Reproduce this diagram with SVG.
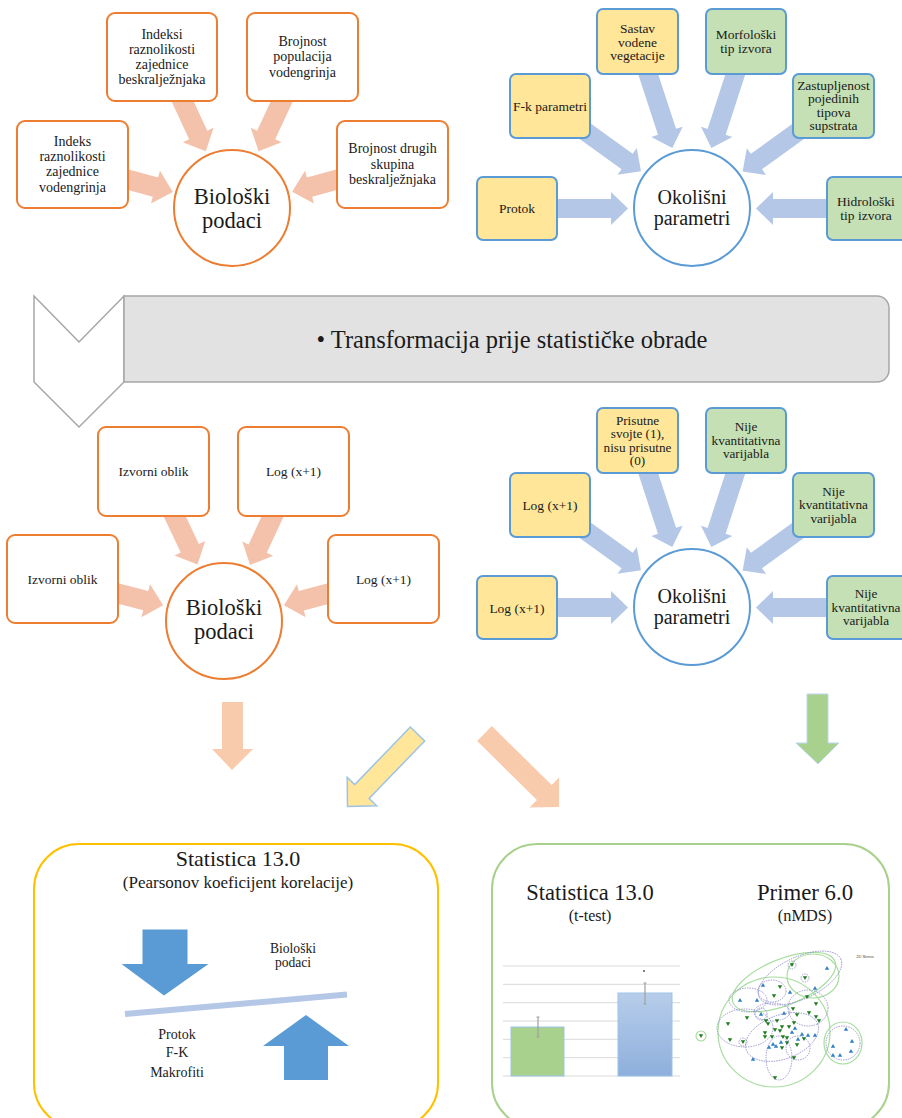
<svg xmlns="http://www.w3.org/2000/svg" width="902" height="1118" viewBox="0 0 902 1118">
<defs>
<style>
text { font-family: "Liberation Serif","Times New Roman",serif; fill:#1a1a1a; text-anchor:middle; }
.ob { fill:#fff; stroke:#ED7D31; stroke-width:2; }
.yb { fill:#FFE699; stroke:#5B9BD5; stroke-width:2; }
.gb { fill:#C5E0B4; stroke:#5B9BD5; stroke-width:2; }
.oc { fill:#fff; stroke:#ED7D31; stroke-width:2; }
.bc { fill:#fff; stroke:#5B9BD5; stroke-width:2; }
.sa { fill:#F4C1AB; }
.ba { fill:#B4C7E7; }
.t14 { font-size:14px; }
.t13 { font-size:13.5px; }
.t132 { font-size:13.2px; }
.big { font-size:22.5px; }
.mid { font-size:20px; }
.pe { fill:none; stroke:#8A86C8; stroke-width:0.8; stroke-dasharray:1.5 1; }
.ge { fill:none; stroke:#A8DDA0; stroke-width:1.2; }
.grid { stroke:#D9D9D9; stroke-width:1; }
.err { stroke:#A0A0A0; stroke-width:1.2; fill:none; }
</style>
<path id="dn" d="M-2.2,-1.8 H2.2 L0,2 Z" fill="#1E7B1E"/>
<path id="up" d="M-2.2,1.8 H2.2 L0,-2 Z" fill="#2F7FC1"/>
<linearGradient id="bgr" x1="0" y1="0" x2="0" y2="1"><stop offset="0" stop-color="#B7CDEA"/><stop offset="1" stop-color="#8EAFDD"/></linearGradient>
</defs>

<g id="connectors">
  <!-- top-left salmon -->
  <polygon class="sa" transform="translate(72.5,164.5) rotate(15.3)" points="50,-10 86,-10 86,-17 104,0 86,17 86,10 50,10"/>
  <polygon class="sa" transform="translate(162,57) rotate(65.1)" points="40,-10 86,-10 86,-17 104,0 86,17 86,10 40,10"/>
  <polygon class="sa" transform="translate(302.5,57) rotate(115)" points="40,-10 86,-10 86,-17 104,0 86,17 86,10 40,10"/>
  <polygon class="sa" transform="translate(392.5,164.5) rotate(164.8)" points="50,-10 86,-10 86,-17 104,0 86,17 86,10 50,10"/>
  <!-- middle-left salmon -->
  <polygon class="sa" transform="translate(62.5,579) rotate(14.6)" points="50,-10 86,-10 86,-17 104,0 86,17 86,10 50,10"/>
  <polygon class="sa" transform="translate(153.5,471.5) rotate(64.7)" points="40,-10 85,-10 85,-17 103,0 85,17 85,10 40,10"/>
  <polygon class="sa" transform="translate(293.5,471.5) rotate(114.9)" points="40,-10 85,-10 85,-17 103,0 85,17 85,10 40,10"/>
  <polygon class="sa" transform="translate(383.5,579) rotate(165.2)" points="50,-10 85,-10 85,-17 103,0 85,17 85,10 50,10"/>
  <!-- top-right blue -->
  <polygon class="ba" transform="translate(517,208.5)" points="35,-9.5 94,-9.5 94,-16.5 111,0 94,16.5 94,9.5 35,9.5"/>
  <polygon class="ba" transform="translate(550,106) rotate(35.7)" points="42,-9.5 95,-9.5 95,-16.5 112,0 95,16.5 95,9.5 42,9.5"/>
  <polygon class="ba" transform="translate(637.5,41.5) rotate(71.9)" points="28,-9.5 95,-9.5 95,-16.5 112,0 95,16.5 95,9.5 28,9.5"/>
  <polygon class="ba" transform="translate(746,41.5) rotate(108)" points="28,-9.5 95,-9.5 95,-16.5 112,0 95,16.5 95,9.5 28,9.5"/>
  <polygon class="ba" transform="translate(833.5,106) rotate(144.2)" points="42,-9.5 95,-9.5 95,-16.5 112,0 95,16.5 95,9.5 42,9.5"/>
  <polygon class="ba" transform="translate(866,208.5) rotate(180)" points="35,-9.5 93,-9.5 93,-16.5 110,0 93,16.5 93,9.5 35,9.5"/>
  <!-- middle-right blue -->
  <polygon class="ba" transform="translate(517,607.5)" points="35,-9.5 94,-9.5 94,-16.5 111,0 94,16.5 94,9.5 35,9.5"/>
  <polygon class="ba" transform="translate(550,505) rotate(35.7)" points="42,-9.5 95,-9.5 95,-16.5 112,0 95,16.5 95,9.5 42,9.5"/>
  <polygon class="ba" transform="translate(637.5,440.5) rotate(71.9)" points="28,-9.5 95,-9.5 95,-16.5 112,0 95,16.5 95,9.5 28,9.5"/>
  <polygon class="ba" transform="translate(746,440.5) rotate(108)" points="28,-9.5 95,-9.5 95,-16.5 112,0 95,16.5 95,9.5 28,9.5"/>
  <polygon class="ba" transform="translate(833.5,505) rotate(144.2)" points="42,-9.5 95,-9.5 95,-16.5 112,0 95,16.5 95,9.5 42,9.5"/>
  <polygon class="ba" transform="translate(866,607.5) rotate(180)" points="35,-9.5 93,-9.5 93,-16.5 110,0 93,16.5 93,9.5 35,9.5"/>
  <!-- bottom arrows -->
  <polygon fill="#F8CBAD" points="222,702 243,702 243,749 253,749 232,770 212,749 222,749"/>
  <polygon fill="#FFE699" stroke="#9DC3E6" stroke-width="1.5" transform="translate(417.5,734) rotate(134)" points="0,-10 80,-10 80,-20.5 100.8,0 80,20.5 80,10 0,10"/>
  <polygon fill="#F8CBAD" transform="translate(484.5,733.5) rotate(44.6)" points="0,-10.5 84,-10.5 84,-21 104.7,0 84,21 84,10.5 0,10.5"/>
  <polygon fill="#A9D18E" stroke="#BDD7EE" stroke-width="1" points="807,694 828,694 828,743 839,743 818,764 796,743 807,743"/>
</g>

<!-- top-left group -->
<g id="n-indeksi-beskr">
  <rect class="ob" x="107" y="13" width="110" height="88" rx="8"/>
  <text class="t14"><tspan x="162" y="38.5">Indeksi</tspan><tspan x="162" y="53.8">raznolikosti</tspan><tspan x="162" y="69.1">zajednice</tspan><tspan x="162" y="84.4">beskralježnjaka</tspan></text>
</g>
<g id="n-brojnost-pop">
  <rect class="ob" x="247" y="13" width="111" height="88" rx="8"/>
  <text class="t14"><tspan x="302.5" y="46">Brojnost</tspan><tspan x="302.5" y="61.3">populacija</tspan><tspan x="302.5" y="76.6">vodengrinja</tspan></text>
</g>
<g id="n-indeks-vodengr">
  <rect class="ob" x="17" y="121" width="111" height="87" rx="8"/>
  <text class="t14"><tspan x="72.5" y="145.6">Indeks</tspan><tspan x="72.5" y="160.9">raznolikosti</tspan><tspan x="72.5" y="176.2">zajednice</tspan><tspan x="72.5" y="191.5">vodengrinja</tspan></text>
</g>
<g id="n-brojnost-drugih">
  <rect class="ob" x="337" y="121" width="111" height="87" rx="8"/>
  <text class="t14"><tspan x="392.5" y="153.2">Brojnost drugih</tspan><tspan x="392.5" y="168.5">skupina</tspan><tspan x="392.5" y="183.8">beskralježnjaka</tspan></text>
</g>
<g id="n-bioloski-1">
  <circle class="oc" cx="232" cy="208" r="58"/>
  <text class="big"><tspan x="232" y="204">Biološki</tspan><tspan x="232" y="228">podaci</tspan></text>
</g>

<!-- top-right group -->
<g id="n-sastav">
  <rect class="yb" x="597" y="9" width="81" height="65" rx="6"/>
  <text class="t13"><tspan x="637.5" y="32.8">Sastav</tspan><tspan x="637.5" y="46.6">vodene</tspan><tspan x="637.5" y="60.4">vegetacije</tspan></text>
</g>
<g id="n-morfoloski">
  <rect class="gb" x="706" y="9" width="80" height="65" rx="6"/>
  <text class="t13"><tspan x="746" y="39.3">Morfološki</tspan><tspan x="746" y="53">tip izvora</tspan></text>
</g>
<g id="n-fk">
  <rect class="yb" x="510" y="74" width="80" height="64" rx="6"/>
  <text class="t13" x="550" y="111">F-k parametri</text>
</g>
<g id="n-zastupljenost">
  <rect class="gb" x="793" y="74" width="81" height="64" rx="6"/>
  <text class="t13"><tspan x="833.5" y="89.8">Zastupljenost</tspan><tspan x="833.5" y="103.2">pojedinih</tspan><tspan x="833.5" y="116.7">tipova</tspan><tspan x="833.5" y="130.2">supstrata</tspan></text>
</g>
<g id="n-protok">
  <rect class="yb" x="477" y="177" width="80" height="63" rx="6"/>
  <text class="t13" x="517" y="213">Protok</text>
</g>
<g id="n-hidroloski">
  <rect class="gb" x="827" y="177" width="82" height="63" rx="6"/>
  <text class="t13"><tspan x="866" y="206">Hidrološki</tspan><tspan x="866" y="219.5">tip izvora</tspan></text>
</g>
<g id="n-okolisni-1">
  <circle class="bc" cx="692" cy="208" r="58"/>
  <text class="mid"><tspan x="692" y="204">Okolišni</tspan><tspan x="692" y="225">parametri</tspan></text>
</g>

<!-- banner -->
<g id="n-transformacija">
  <polygon points="34,296 79,342 124,296 124,382 79,427 34,382" fill="#fff" stroke="#A6A6A6" stroke-width="1.5"/>
  <path d="M124,296 H877 A12,12 0 0 1 889,308 V370 A12,12 0 0 1 877,382 H124 Z" fill="#E2E2E2" stroke="#A6A6A6" stroke-width="1.5"/>
  <text x="512" y="348" style="font-size:24.5px">• Transformacija  prije statističke obrade</text>
</g>

<!-- middle-left group -->
<g id="n-izvorni-1">
  <rect class="ob" x="98" y="427" width="111" height="89" rx="8"/>
  <text class="t13" x="153.5" y="476">Izvorni oblik</text>
</g>
<g id="n-log-1">
  <rect class="ob" x="238" y="427" width="111" height="89" rx="8"/>
  <text class="t13" x="293.5" y="476">Log (x+1)</text>
</g>
<g id="n-izvorni-2">
  <rect class="ob" x="7" y="535" width="111" height="88" rx="8"/>
  <text class="t13" x="62.5" y="583.5">Izvorni oblik</text>
</g>
<g id="n-log-2">
  <rect class="ob" x="328" y="535" width="111" height="88" rx="8"/>
  <text class="t13" x="383.5" y="583.5">Log (x+1)</text>
</g>
<g id="n-bioloski-2">
  <circle class="oc" cx="224" cy="621" r="58"/>
  <text class="big"><tspan x="224" y="614.5">Biološki</tspan><tspan x="224" y="639">podaci</tspan></text>
</g>

<!-- middle-right group -->
<g id="n-prisutne">
  <rect class="yb" x="597" y="408" width="81" height="65" rx="6"/>
  <text class="t132"><tspan x="637.5" y="425">Prisutne</tspan><tspan x="637.5" y="438.3">svojte (1),</tspan><tspan x="637.5" y="451.6">nisu prisutne</tspan><tspan x="637.5" y="464.9">(0)</tspan></text>
</g>
<g id="n-nije-1">
  <rect class="gb" x="706" y="408" width="80" height="65" rx="6"/>
  <text class="t132"><tspan x="746" y="431">Nije</tspan><tspan x="746" y="444.5">kvantitativna</tspan><tspan x="746" y="458">varijabla</tspan></text>
</g>
<g id="n-log-3">
  <rect class="yb" x="510" y="473" width="80" height="64" rx="6"/>
  <text class="t13" x="550" y="510">Log (x+1)</text>
</g>
<g id="n-nije-2">
  <rect class="gb" x="793" y="473" width="81" height="64" rx="6"/>
  <text class="t132"><tspan x="833.5" y="495.5">Nije</tspan><tspan x="833.5" y="509">kvantitativna</tspan><tspan x="833.5" y="522.5">varijabla</tspan></text>
</g>
<g id="n-log-4">
  <rect class="yb" x="477" y="576" width="80" height="63" rx="6"/>
  <text class="t13" x="517" y="613">Log (x+1)</text>
</g>
<g id="n-nije-3">
  <rect class="gb" x="827" y="576" width="82" height="63" rx="6"/>
  <text class="t132"><tspan x="866" y="598">Nije</tspan><tspan x="866" y="611.5">kvantitativna</tspan><tspan x="866" y="625">varijabla</tspan></text>
</g>
<g id="n-okolisni-2">
  <circle class="bc" cx="692" cy="607" r="58"/>
  <text class="mid"><tspan x="692" y="603">Okolišni</tspan><tspan x="692" y="624">parametri</tspan></text>
</g>

<!-- bottom-left box -->
<g id="n-statistica-pearson">
  <rect x="34" y="844" width="404" height="284" rx="45" fill="#fff" stroke="#FFC000" stroke-width="2"/>
  <text x="238" y="866" style="font-size:22px">Statistica 13.0</text>
  <text x="238" y="888" style="font-size:17px">(Pearsonov koeficijent korelacije)</text>
  <polygon fill="#5B9BD5" points="142.5,929.5 187.5,929.5 187.5,964 208.5,964 164,995.5 121.5,964 142.5,964"/>
  <line x1="125" y1="1014" x2="347" y2="994.5" stroke="#B4C7E7" stroke-width="6"/>
  <polygon fill="#5B9BD5" points="284,1080 328,1080 328,1046 349,1046 306,1015 263,1046 284,1046"/>
  <text style="font-size:13.6px"><tspan x="293" y="953">Biološki</tspan><tspan x="293" y="966.5">podaci</tspan></text>
  <text style="font-size:14px"><tspan x="177" y="1038.5">Protok</tspan><tspan x="177" y="1057">F-K</tspan><tspan x="177" y="1076.5">Makrofiti</tspan></text>
</g>

<!-- bottom-right box -->
<g id="n-statistica-primer">
  <rect x="492" y="844" width="397" height="284" rx="45" fill="#fff" stroke="#A9D18E" stroke-width="2"/>
  <text x="590" y="900" style="font-size:22.5px">Statistica 13.0</text>
  <text x="590" y="921" style="font-size:16px">(t-test)</text>
  <text x="805" y="900" style="font-size:22.8px">Primer 6.0</text>
  <text x="805" y="921" style="font-size:16.3px">(nMDS)</text>
  <!-- bar chart -->
  <g>
    <line class="grid" x1="503" y1="966" x2="680" y2="966"/>
    <line class="grid" x1="503" y1="984.3" x2="680" y2="984.3"/>
    <line class="grid" x1="503" y1="1002.7" x2="680" y2="1002.7"/>
    <line class="grid" x1="503" y1="1021" x2="680" y2="1021"/>
    <line class="grid" x1="503" y1="1039.3" x2="680" y2="1039.3"/>
    <line class="grid" x1="503" y1="1057.7" x2="680" y2="1057.7"/>
    <line class="grid" x1="503" y1="1076" x2="680" y2="1076"/>
    <rect x="511" y="1027" width="53" height="49" fill="#A9D18E" stroke="#9DC3E6" stroke-width="1"/>
    <rect x="618" y="993" width="54" height="83" fill="url(#bgr)" stroke="#9DC3E6" stroke-width="1"/>
    <path class="err" d="M538,1017 V1037 M536.5,1017 H539.5 M536.5,1037 H539.5"/>
    <path class="err" d="M645,983 V1004 M643.5,983 H646.5 M643.5,1004 H646.5"/>
    <circle cx="644" cy="971" r="1" fill="#555"/>
  </g>
  <!-- nMDS -->
  <g>
    <text x="865" y="958" style="font-family:'Liberation Sans',Arial,sans-serif;font-size:4px;fill:#444">2D Stress</text>
    <ellipse class="ge" cx="774" cy="1032" rx="56" ry="55"/>
    <ellipse class="ge" cx="784" cy="982" rx="55" ry="23" transform="rotate(-22 784 982)"/>
    <ellipse class="ge" cx="813" cy="976" rx="26" ry="22"/>
    <ellipse class="ge" cx="843" cy="1043" rx="19" ry="21"/>
    <circle class="ge" cx="701" cy="1036" r="5"/>
    <ellipse class="pe" cx="800" cy="978" rx="45" ry="21" transform="rotate(-25 800 978)"/>
    <ellipse class="pe" cx="748" cy="1000" rx="19" ry="12"/>
    <ellipse class="pe" cx="772" cy="991" rx="14" ry="11"/>
    <ellipse class="pe" cx="808" cy="1008" rx="20" ry="18"/>
    <ellipse class="pe" cx="745" cy="1028" rx="28" ry="19"/>
    <ellipse class="pe" cx="782" cy="1037" rx="38" ry="22" transform="rotate(-20 782 1037)"/>
    <ellipse class="pe" cx="779" cy="1058" rx="13" ry="22"/>
    <ellipse class="pe" cx="798" cy="1048" rx="12" ry="12"/>
    <ellipse class="pe" cx="772" cy="1012" rx="18" ry="9"/>
    <circle class="pe" cx="743" cy="1042" r="4"/>
    <circle class="pe" cx="761" cy="1014" r="6"/>
    <circle class="pe" cx="792" cy="965" r="4"/>
    <circle class="pe" cx="805" cy="978" r="4"/>
    <circle class="pe" cx="843" cy="1043" r="17"/>
    <use href="#dn" x="792" y="965"/><use href="#dn" x="805" y="978"/><use href="#dn" x="780" y="987"/>
    <use href="#dn" x="774" y="996"/><use href="#dn" x="807" y="997"/><use href="#dn" x="816" y="1004"/>
    <use href="#dn" x="728" y="1024"/><use href="#dn" x="747" y="1018"/><use href="#dn" x="766" y="1021"/>
    <use href="#dn" x="768" y="1024"/><use href="#dn" x="777" y="1021"/><use href="#dn" x="793" y="1009"/>
    <use href="#dn" x="797" y="1015"/><use href="#dn" x="809" y="1013"/><use href="#dn" x="816" y="1017"/>
    <use href="#dn" x="819" y="1021"/><use href="#dn" x="730" y="1040"/><use href="#dn" x="765" y="1033"/>
    <use href="#dn" x="775" y="1030"/><use href="#dn" x="782" y="1027"/><use href="#dn" x="789" y="1027"/>
    <use href="#dn" x="794" y="1023"/><use href="#dn" x="780" y="1031"/><use href="#dn" x="765" y="1037"/>
    <use href="#dn" x="772" y="1037"/><use href="#dn" x="783" y="1037"/><use href="#dn" x="787" y="1038"/>
    <use href="#dn" x="797" y="1045"/><use href="#dn" x="787" y="1043"/><use href="#dn" x="804" y="1039"/>
    <use href="#dn" x="782" y="1048"/><use href="#dn" x="794" y="1058"/><use href="#dn" x="775" y="1078"/>
    <use href="#dn" x="743" y="1042"/><use href="#dn" x="701" y="1036"/>
    <use href="#up" x="827" y="968"/><use href="#up" x="763" y="985"/><use href="#up" x="790" y="992"/>
    <use href="#up" x="815" y="988"/><use href="#up" x="740" y="1000"/><use href="#up" x="757" y="1000"/>
    <use href="#up" x="761" y="1014"/><use href="#up" x="784" y="1013"/><use href="#up" x="795" y="1028"/>
    <use href="#up" x="802" y="1034"/><use href="#up" x="808" y="1035"/><use href="#up" x="815" y="1035"/>
    <use href="#up" x="798" y="1039"/><use href="#up" x="792" y="1032"/><use href="#up" x="781" y="1042"/>
    <use href="#up" x="776" y="1046"/><use href="#up" x="769" y="1047"/><use href="#up" x="773" y="1044"/>
    <use href="#up" x="753" y="1059"/><use href="#up" x="846" y="1029"/><use href="#up" x="852" y="1041"/>
    <use href="#up" x="833" y="1046"/><use href="#up" x="851" y="1051"/><use href="#up" x="833" y="1055"/>
    <use href="#up" x="840" y="1055"/>
  </g>
</g>
</svg>
